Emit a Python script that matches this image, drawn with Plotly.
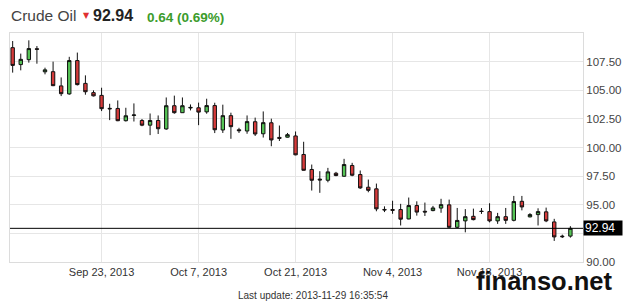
import plotly.graph_objects as go

# ---- data ----
dates = [
    "2013-09-10", "2013-09-11", "2013-09-12", "2013-09-13", "2013-09-15", "2013-09-16",
    "2013-09-17", "2013-09-18", "2013-09-19", "2013-09-20", "2013-09-22", "2013-09-23",
    "2013-09-24", "2013-09-25", "2013-09-26", "2013-09-27", "2013-09-29", "2013-09-30",
    "2013-10-01", "2013-10-02", "2013-10-03", "2013-10-04", "2013-10-06", "2013-10-07",
    "2013-10-08", "2013-10-09", "2013-10-10", "2013-10-11", "2013-10-13", "2013-10-14",
    "2013-10-15", "2013-10-16", "2013-10-17", "2013-10-18", "2013-10-20", "2013-10-21",
    "2013-10-22", "2013-10-23", "2013-10-24", "2013-10-25", "2013-10-27", "2013-10-28",
    "2013-10-29", "2013-10-30", "2013-10-31", "2013-11-01", "2013-11-03", "2013-11-04",
    "2013-11-05", "2013-11-06", "2013-11-07", "2013-11-08", "2013-11-10", "2013-11-11",
    "2013-11-12", "2013-11-13", "2013-11-14", "2013-11-15", "2013-11-17", "2013-11-18",
    "2013-11-19", "2013-11-20", "2013-11-21", "2013-11-22", "2013-11-24", "2013-11-25",
    "2013-11-26", "2013-11-27", "2013-11-28", "2013-11-29",
]
opens = [
    108.72, 107.24, 107.67, 108.62, 106.61, 106.62, 105.38, 104.68, 107.59, 105.60,
    104.79, 104.55, 103.42, 103.41, 102.34, 102.80, 102.36, 101.95, 102.36, 101.62,
    103.65, 103.04, 103.45, 103.47, 103.11, 103.66, 101.53, 102.78, 101.55, 101.44,
    102.25, 101.20, 102.16, 100.88, 100.90, 101.01, 99.39, 98.08, 97.24, 97.14,
    97.75, 97.49, 98.43, 97.64, 96.53, 96.39, 94.59, 94.58, 94.58, 93.76,
    94.93, 94.43, 94.49, 94.71, 94.99, 93.03, 93.59, 93.99, 94.44, 94.40,
    93.59, 93.96, 93.64, 95.30, 93.94, 94.14, 94.38, 93.50, 92.26, 92.26,
]
highs = [
    109.30, 108.20, 109.36, 108.86, 106.97, 107.50, 106.12, 107.92, 108.29, 106.30,
    104.99, 105.22, 103.82, 104.11, 103.47, 103.85, 102.49, 102.97, 102.80, 104.37,
    104.53, 104.37, 103.76, 103.92, 104.26, 103.91, 103.74, 103.04, 101.72, 102.80,
    102.61, 103.15, 102.52, 101.92, 101.27, 101.40, 100.50, 98.51, 97.93, 98.22,
    97.87, 99.01, 98.66, 97.99, 97.20, 96.85, 94.86, 95.35, 95.08, 95.63,
    95.30, 95.19, 94.90, 95.52, 95.45, 94.72, 94.62, 94.66, 94.71, 95.13,
    94.29, 94.72, 95.77, 95.77, 94.27, 94.69, 94.75, 93.77, 92.39, 93.13,
]
lows = [
    106.54, 106.74, 107.41, 107.32, 106.39, 105.36, 104.49, 104.61, 105.42, 104.61,
    104.46, 103.18, 102.39, 102.30, 102.27, 102.27, 101.86, 101.08, 101.18, 101.55,
    102.95, 103.02, 103.24, 101.95, 102.95, 101.26, 101.27, 100.76, 101.27, 101.20,
    101.01, 100.87, 100.11, 100.57, 100.87, 99.32, 97.99, 96.24, 96.04, 96.96,
    97.49, 97.44, 97.49, 96.39, 96.09, 94.43, 94.36, 94.21, 93.19, 93.73,
    94.05, 94.02, 94.43, 94.30, 93.00, 92.96, 92.59, 93.64, 94.20, 93.46,
    93.33, 93.33, 93.55, 94.51, 93.90, 93.19, 93.48, 91.84, 92.10, 92.13,
]
closes = [
    107.17, 107.70, 108.64, 108.58, 106.78, 105.40, 104.70, 107.59, 105.49, 104.87,
    104.51, 103.39, 103.38, 102.34, 102.77, 102.84, 101.95, 102.36, 101.64, 103.65,
    103.04, 103.65, 103.50, 103.09, 103.66, 101.55, 102.78, 101.82, 101.47, 102.26,
    101.18, 102.17, 100.66, 100.80, 101.12, 99.36, 98.01, 97.14, 97.17, 97.87,
    97.55, 98.51, 97.58, 96.47, 96.26, 94.64, 94.55, 94.52, 93.74, 94.93,
    94.36, 94.37, 94.72, 95.01, 93.03, 93.63, 93.96, 93.70, 94.41, 93.59,
    93.96, 93.64, 95.28, 94.81, 94.14, 94.40, 93.59, 92.19, 92.21, 92.94,
]
x_tick_dates = ["2013-09-23", "2013-10-07", "2013-10-21", "2013-11-04", "2013-11-18"]
x_tick_labels = ["Sep 23, 2013", "Oct 7, 2013", "Oct 21, 2013", "Nov 4, 2013", "Nov 18, 2013"]
y_ticks = [90, 92.5, 95, 97.5, 100, 102.5, 105, 107.5, 110]
y_tick_labels = ["90.00", "", "95.00", "97.50", "100.00", "102.50", "105.00", "107.50", ""]
last_price = 92.94
title_name = "Crude Oil"
change_text = "0.64 (0.69%)"
update_text = "Last update: 2013-11-29 16:35:54"
watermark = "finanso.net"

# ---- layout geometry (pixels) ----
W, H = 631, 307
L, R, T, B = 10, 48, 33, 45
pw, ph = W - L - R, H - T - B


def px(xp):
    return (xp - L) / pw


def py(yp):
    return (H - B - yp) / ph


FONT = "Liberation Sans, Arial, sans-serif"
RED = "#d63b3b"
GREEN = "#55c455"

fig = go.Figure(
    go.Candlestick(
        x=dates, open=opens, high=highs, low=lows, close=closes,
        increasing=dict(fillcolor=GREEN, line=dict(color="#111111", width=1)),
        decreasing=dict(fillcolor=RED, line=dict(color="#111111", width=1)),
        whiskerwidth=0,
        hoverinfo="skip",
        showlegend=False,
    )
)

fig.add_shape(type="line", xref="paper", yref="y", x0=0, x1=1,
              y0=last_price, y1=last_price, line=dict(color="#000000", width=1))

fig.add_annotation(xref="paper", yref="y", x=1, y=last_price, xanchor="left", yanchor="middle",
                   text=f"{last_price:.2f}", showarrow=False, bgcolor="#000000",
                   font=dict(family=FONT, size=12, color="#ffffff"),
                   width=36, height=12, borderpad=1, align="left")

fig.add_annotation(xref="paper", yref="paper", x=px(9), y=py(16), xanchor="left", yanchor="middle",
                   text=title_name, showarrow=False,
                   font=dict(family=FONT, size=15.5, color="#444444"))
fig.add_annotation(xref="paper", yref="paper", x=px(81), y=py(15), xanchor="left", yanchor="middle",
                   text="▼", showarrow=False,
                   font=dict(family="DejaVu Sans", size=8, color="#e03030"))
fig.add_annotation(xref="paper", yref="paper", x=px(91), y=py(16), xanchor="left", yanchor="middle",
                   text=f"<b>{last_price:.2f}</b>", showarrow=False,
                   font=dict(family=FONT, size=16, color="#222222"))
fig.add_annotation(xref="paper", yref="paper", x=px(145), y=py(17), xanchor="left", yanchor="middle",
                   text=f"<b>{change_text}</b>", showarrow=False,
                   font=dict(family=FONT, size=13.5, color="#3c9c2c"))
fig.add_annotation(xref="paper", yref="paper", x=px(313), y=py(295), xanchor="center", yanchor="middle",
                   text=update_text, showarrow=False,
                   font=dict(family=FONT, size=10, color="#333333"))
fig.add_annotation(xref="paper", yref="paper", x=px(474), y=py(281), xanchor="left", yanchor="middle",
                   text=f"<b>{watermark}</b>", showarrow=False,
                   font=dict(family=FONT, size=25.5, color="#111111"))

fig.update_layout(
    width=W, height=H,
    margin=dict(l=L, r=R, t=T, b=B, pad=0),
    paper_bgcolor="#ffffff", plot_bgcolor="#ffffff",
    boxgap=0.4,
    showlegend=False,
    xaxis=dict(
        type="category",
        range=[-0.33, 70.56],
        tickmode="array", tickvals=x_tick_dates, ticktext=x_tick_labels,
        showgrid=True, gridcolor="#e6e6e6", gridwidth=1,
        showline=True, linecolor="#dcdcdc", linewidth=1, mirror=True,
        ticks="", tickfont=dict(family=FONT, size=11, color="#333333"),
        rangeslider=dict(visible=False),
        fixedrange=True, zeroline=False,
    ),
    yaxis=dict(
        side="right",
        range=[90, 110],
        tickmode="array", tickvals=y_ticks, ticktext=y_tick_labels,
        showgrid=True, gridcolor="#e6e6e6", gridwidth=1,
        showline=True, linecolor="#dcdcdc", linewidth=1, mirror=True,
        ticks="", tickfont=dict(family=FONT, size=11.5, color="#444444"),
        fixedrange=True, zeroline=False,
    ),
)

fig.write_html("out.html")
